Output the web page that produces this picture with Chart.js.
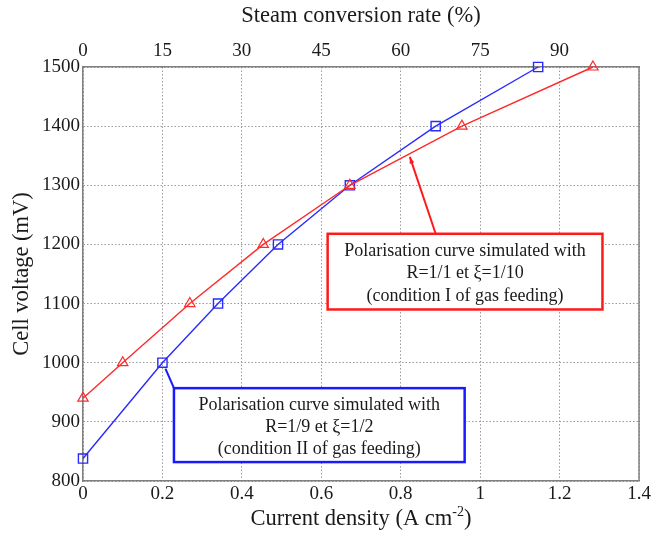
<!DOCTYPE html>
<html>
<head>
<meta charset="utf-8">
<script src="https://cdn.jsdelivr.net/npm/chart.js@4.4.1/dist/chart.umd.min.js"></script>
<style>
  html, body { margin: 0; padding: 0; background: #fff; }
  #wrap { width: 654px; height: 536px; }
</style>
</head>
<body>
<div id="wrap"><canvas id="c" width="654" height="536"></canvas></div>
<script>
// tick labels
const currentTicks = [0, 0.2, 0.4, 0.6, 0.8, 1, 1.2, 1.4];
const currentLabels = ['0', '0.2', '0.4', '0.6', '0.8', '1', '1.2', '1.4'];
const steamTicks = [0, 15, 30, 45, 60, 75, 90];
const voltageTicks = [800, 900, 1000, 1100, 1200, 1300, 1400, 1500];

// condition II (R=1/9, xi=1/2) - blue squares
const blueCurrent = [0, 0.2, 0.34, 0.491, 0.672, 0.888, 1.146];
const blueVoltage = [838, 1000, 1100, 1200, 1300, 1400, 1500];
// condition I (R=1/1, xi=1/10) - red triangles
const redCurrent = [0, 0.1, 0.269, 0.454, 0.672, 0.954, 1.284];
const redVoltage = [940, 1000, 1100, 1200, 1300, 1400, 1500];

const redNote = ['Polarisation curve simulated with', 'R=1/1 et \u03BE=1/10', '(condition I of gas feeding)'];
const blueNote = ['Polarisation curve simulated with', 'R=1/9 et \u03BE=1/2', '(condition II of gas feeding)'];

const serif = '"Liberation Serif", "Times New Roman", serif';
const tickFont = { family: serif, size: 19 };
const titleSize = 22.5;

function toPts(xs, ys) {
  return xs.map((x, i) => ({ x: x, y: ys[i] }));
}

// draws frame, axis titles and the two boxed notes
const extras = {
  id: 'extras',
  afterDraw(chart) {
    const c = chart.ctx;
    const a = chart.chartArea;
    const sx = chart.scales.x, sy = chart.scales.y;
    c.save();
    // right border
    c.strokeStyle = '#7f7f7f';
    c.lineWidth = 1.5;
    c.beginPath();
    c.moveTo(a.right, a.top);
    c.lineTo(a.right, a.bottom);
    c.stroke();

    c.fillStyle = '#1a1a1a';
    c.font = titleSize + 'px ' + serif;
    c.textAlign = 'center';
    c.textBaseline = 'middle';
    c.fillText('Steam conversion rate (%)', (a.left + a.right) / 2, 16);

    c.save();
    c.translate(22, (a.top + a.bottom) / 2);
    c.rotate(-Math.PI / 2);
    c.fillText('Cell voltage (mV)', 0, 0);
    c.restore();

    // bottom title with superscript
    const main = 'Current density (A cm';
    const sup = '-2';
    const tail = ')';
    c.font = titleSize + 'px ' + serif;
    const w1 = c.measureText(main).width;
    const w3 = c.measureText(tail).width;
    c.font = '14px ' + serif;
    const w2 = c.measureText(sup).width;
    let x0 = (a.left + a.right) / 2 - (w1 + w2 + w3) / 2;
    const yb = 519;
    c.textAlign = 'left';
    c.font = titleSize + 'px ' + serif;
    c.fillText(main, x0, yb);
    c.font = '14px ' + serif;
    c.fillText(sup, x0 + w1, yb - 7);
    c.font = titleSize + 'px ' + serif;
    c.fillText(tail, x0 + w1 + w2, yb);

    // red note: arrow then box
    const rx1 = sx.getPixelForValue(0.616), rx2 = sx.getPixelForValue(1.308);
    const ry1 = sy.getPixelForValue(1218), ry2 = sy.getPixelForValue(1090);
    const tipX = sx.getPixelForValue(0.823), tipY = sy.getPixelForValue(1348);
    const tailX = sx.getPixelForValue(0.888);
    c.strokeStyle = '#ff1a1a';
    c.fillStyle = '#ff1a1a';
    c.lineWidth = 2;
    c.beginPath();
    c.moveTo(tailX, ry1);
    c.lineTo(tipX, tipY);
    c.stroke();
    const ang = Math.atan2(tipY - ry1, tipX - tailX);
    c.beginPath();
    c.moveTo(tipX, tipY);
    c.lineTo(tipX - 7 * Math.cos(ang - 0.35), tipY - 7 * Math.sin(ang - 0.35));
    c.lineTo(tipX - 7 * Math.cos(ang + 0.35), tipY - 7 * Math.sin(ang + 0.35));
    c.closePath();
    c.fill();
    drawNote(c, rx1, ry1, rx2, ry2, redNote, '#ff1a1a');

    // blue note: leader line then box
    const bx1 = sx.getPixelForValue(0.229), bx2 = sx.getPixelForValue(0.961);
    const by1 = sy.getPixelForValue(957), by2 = sy.getPixelForValue(832);
    const px = sx.getPixelForValue(blueCurrent[1]), py = sy.getPixelForValue(blueVoltage[1]);
    c.strokeStyle = '#1a1aff';
    c.lineWidth = 2;
    c.beginPath();
    c.moveTo(bx1, by1);
    c.lineTo(px + 3, py + 6);
    c.stroke();
    drawNote(c, bx1, by1, bx2, by2, blueNote, '#1a1aff');
    c.restore();
  }
};

function drawNote(c, x1, y1, x2, y2, lines, col) {
  c.fillStyle = '#fff';
  c.fillRect(x1, y1, x2 - x1, y2 - y1);
  c.strokeStyle = col;
  c.lineWidth = 2.5;
  c.strokeRect(x1, y1, x2 - x1, y2 - y1);
  c.fillStyle = '#1a1a1a';
  c.font = '18px ' + serif;
  c.textAlign = 'center';
  c.textBaseline = 'middle';
  const cx = (x1 + x2) / 2;
  const step = (y2 - y1) / 3.4;
  lines.forEach((t, i) => c.fillText(t, cx, y1 + step * (0.75 + i) + 1));
}

new Chart(document.getElementById('c'), {
  type: 'line',
  data: {
    datasets: [
      {
        label: 'condition I',
        data: toPts(redCurrent, redVoltage),
        borderColor: '#ff2a2a',
        backgroundColor: 'rgba(0,0,0,0)',
        pointStyle: 'triangle',
        pointRadius: 6,
        pointBorderWidth: 1.2,
        borderWidth: 1.4,
        tension: 0,
        clip: false
      },
      {
        label: 'condition II',
        data: toPts(blueCurrent, blueVoltage),
        borderColor: '#2a2aff',
        backgroundColor: 'rgba(0,0,0,0)',
        pointStyle: 'rect',
        pointRadius: 6.5,
        pointBorderWidth: 1.4,
        borderWidth: 1.4,
        tension: 0,
        clip: false
      }
    ]
  },
  options: {
    responsive: false,
    animation: false,
    devicePixelRatio: 1,
    layout: { padding: { right: 15, left: 0, top: 0, bottom: 0 } },
    plugins: { legend: { display: false }, tooltip: { enabled: false } },
    scales: {
      x: {
        type: 'linear',
        position: 'bottom',
        min: 0,
        max: 1.4,
        afterBuildTicks: s => { s.ticks = currentTicks.map(v => ({ value: v })); },
        afterFit: s => { s.height = 55; },
        ticks: {
          callback: (v, i) => currentLabels[i],
          font: tickFont,
          color: '#1a1a1a',
          padding: 2,
          maxRotation: 0,
          autoSkip: false
        },
        grid: { color: '#9a9a9a', lineWidth: 1, drawTicks: false },
        border: { color: '#7f7f7f', width: 1.5, dash: [1.5, 2] }
      },
      x2: {
        type: 'linear',
        position: 'top',
        min: 0,
        max: 105,
        afterBuildTicks: s => { s.ticks = steamTicks.map(v => ({ value: v })); },
        afterFit: s => { s.height = 67; },
        ticks: {
          callback: v => String(v),
          font: tickFont,
          color: '#1a1a1a',
          padding: 5,
          maxRotation: 0,
          autoSkip: false
        },
        grid: { display: false, drawTicks: false },
        border: { color: '#7f7f7f', width: 1.5 }
      },
      y: {
        type: 'linear',
        position: 'left',
        min: 800,
        max: 1500,
        afterBuildTicks: s => { s.ticks = voltageTicks.map(v => ({ value: v })); },
        afterFit: s => { s.width = 83; },
        ticks: {
          callback: v => String(v),
          font: tickFont,
          color: '#1a1a1a',
          padding: 3,
          autoSkip: false
        },
        grid: { color: '#9a9a9a', lineWidth: 1, drawTicks: false },
        border: { color: '#7f7f7f', width: 1.5, dash: [1.5, 2] }
      }
    }
  },
  plugins: [extras]
});
</script>
</body>
</html>
